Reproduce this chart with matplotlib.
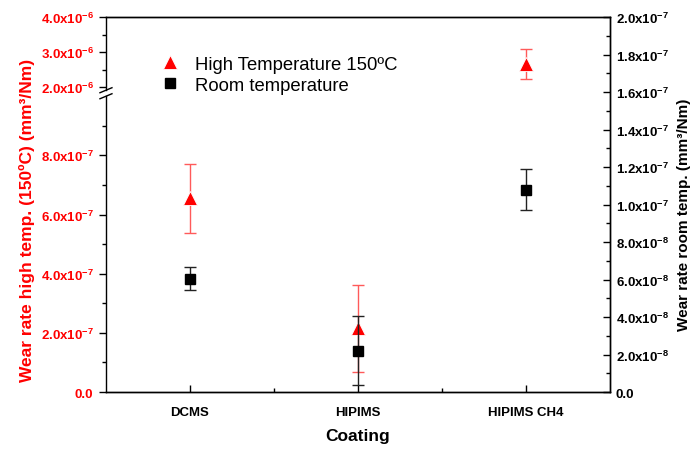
import numpy as np
import matplotlib.pyplot as plt

plt.rcParams['font.family'] = ['Liberation Sans', 'DejaVu Sans']
plt.rcParams['mathtext.fontset'] = 'custom'
plt.rcParams['mathtext.rm'] = 'Liberation Sans'
plt.rcParams['mathtext.bf'] = 'Liberation Sans:bold'

coatings = ["DCMS", "HIPIMS", "HIPIMS CH4"]
high_temp = [6.55e-7, 2.15e-7, 2.66e-6]
high_temp_err = [1.17e-7, 1.48e-7, 4.3e-7]
room_temp = [6.05e-8, 2.2e-8, 1.08e-7]
room_temp_err = [6.2e-9, 1.85e-8, 1.1e-8]

left_ticks = [0, 2e-7, 4e-7, 6e-7, 8e-7, 2e-6, 3e-6, 4e-6]
left_labels = ["0.0", "2.0x10^{-7}", "4.0x10^{-7}", "6.0x10^{-7}", "8.0x10^{-7}",
               "2.0x10^{-6}", "3.0x10^{-6}", "4.0x10^{-6}"]
left_minor = [1e-7, 3e-7, 5e-7, 7e-7, 9e-7, 2.5e-6, 3.5e-6]
right_ticks = [0, 2e-8, 4e-8, 6e-8, 8e-8, 1e-7, 1.2e-7, 1.4e-7, 1.6e-7, 1.8e-7, 2e-7]
right_labels = ["0.0", "2.0x10^{-8}", "4.0x10^{-8}", "6.0x10^{-8}", "8.0x10^{-8}",
                "1.0x10^{-7}", "1.2x10^{-7}", "1.4x10^{-7}", "1.6x10^{-7}", "1.8x10^{-7}",
                "2.0x10^{-7}"]


def fmt(s):
    if s == "0.0":
        return s
    return r"$\mathbf{" + s + "}$"


# broken left axis: 0..1e-6 takes most of the height, 2e-6..4e-6 sits on top
def fwd(v):
    v = np.asarray(v, dtype=float)
    return np.where(v <= 1e-6, v / 1e-6 * 295,
                    np.where(v <= 2e-6, 295 + (v - 1e-6) / 1e-6 * 9,
                             304 + (v - 2e-6) / 1e-6 * 35))


def inv(u):
    u = np.asarray(u, dtype=float)
    return np.where(u <= 295, u / 295 * 1e-6,
                    np.where(u <= 304, 1e-6 + (u - 295) / 9 * 1e-6,
                             2e-6 + (u - 304) / 35 * 1e-6))


fig = plt.figure(figsize=(6.99, 4.52), dpi=100)
ax = fig.add_axes([0.1516, 0.1305, 0.721, 0.8296])
ax.set_yscale('function', functions=(fwd, inv))
ax.set_ylim(0, 4e-6)
ax.set_xlim(0.5, 3.5)
x = np.arange(1, len(coatings) + 1)

red = '#ff0000'
ax.errorbar(x, high_temp, yerr=high_temp_err, fmt='none', ecolor='#ff5a5a',
            elinewidth=1.0, capsize=4, capthick=1.0, zorder=2)
h1, = ax.plot(x, high_temp, '^', color=red, markersize=10, markeredgecolor='white',
              markeredgewidth=0.6, zorder=3, linestyle='none', label='High Temperature 150ºC')

ax2 = ax.twinx()
ax2.set_ylim(0, 2e-7)
ax2.errorbar(x, room_temp, yerr=room_temp_err, fmt='none', ecolor='#222222',
             elinewidth=1.0, capsize=4, capthick=1.0, zorder=2)
h2, = ax2.plot(x, room_temp, 's', color='black', markersize=7.5, zorder=3,
               linestyle='none', label='Room temperature')

# left axis ticks
ax.set_yticks(left_ticks)
ax.set_yticklabels([fmt(s) for s in left_labels])
ax.set_yticks(left_minor, minor=True)
ax.tick_params(axis='y', which='major', direction='out', length=5, width=1,
               labelsize=9.5, labelcolor=red, pad=4)
ax.tick_params(axis='y', which='minor', direction='out', length=3, width=1)
for t in ax.get_yticklabels():
    t.set_fontweight('bold')

ax.set_xticks(x)
ax.set_xticklabels(coatings, fontweight='bold')
ax.set_xticks([1.5, 2.5], minor=True)
ax.tick_params(axis='x', which='major', direction='in', length=5, width=1,
               labelsize=9.5, pad=10)
ax.tick_params(axis='x', which='minor', direction='in', length=3, width=1)
ax.tick_params(axis='x', top=False, which='both')

ax2.set_yticks(right_ticks)
ax2.set_yticklabels([fmt(s) for s in right_labels])
ax2.set_yticks(np.arange(1e-8, 2e-7, 2e-8), minor=True)
ax2.tick_params(axis='y', which='major', direction='in', length=5, width=1,
                labelsize=9.5, pad=4)
ax2.tick_params(axis='y', which='minor', direction='in', length=3, width=1)
for t in ax2.get_yticklabels():
    t.set_fontweight('bold')

for a in (ax, ax2):
    for s in a.spines.values():
        s.set_linewidth(1.0)

# break the left spine
ax2.spines['left'].set_visible(False)
ax.spines['left'].set_bounds(0, 1e-6)
ax.plot([0, 0], [1.667e-6, 4e-6], color='black', lw=1.0,
        transform=ax.get_yaxis_transform(), clip_on=False, zorder=5)
for u in (295, 301):
    ax.plot([-6 / 504, 6 / 504], [(u - 2.5) / 374, (u + 2.5) / 374], color='black',
            lw=1.0, transform=ax.transAxes, clip_on=False, zorder=5)

ax.set_xlabel('Coating', fontsize=12.5, fontweight='bold', labelpad=7)
ax.set_ylabel('Wear rate high temp. (150ºC) (mm³/Nm)', fontsize=12.5,
              fontweight='bold', color=red)
ax.yaxis.set_label_coords(-0.14, 0.459)
ax2.set_ylabel('Wear rate room temp. (mm³/Nm)', fontsize=11,
               fontweight='bold')
ax2.yaxis.set_label_coords(1.133, 0.475)

ax2.legend(handles=[h1, h2], loc='upper left', bbox_to_anchor=(0.076, 0.916),
           frameon=False, fontsize=13.3, handletextpad=0.35, labelspacing=0.2,
           borderaxespad=0)

fig.savefig('out.png', dpi=100)
